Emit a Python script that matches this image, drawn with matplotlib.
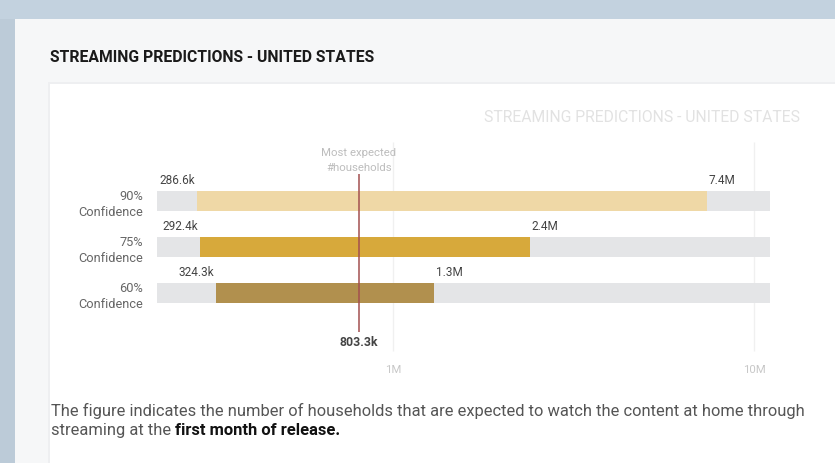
import matplotlib
matplotlib.use("Agg")
import matplotlib.pyplot as plt
from matplotlib.patches import Rectangle
from matplotlib.transforms import blended_transform_factory

# ── Data ──────────────────────────────────────────────────────────────────
levels = ["90%", "75%", "60%"]
lows = [286.6e3, 292.4e3, 324.3e3]
highs = [7.4e6, 2.4e6, 1.3e6]
low_labels = ["286.6k", "292.4k", "324.3k"]
high_labels = ["7.4M", "2.4M", "1.3M"]
most_expected = 803.3e3
most_expected_label = "803.3k"
tick_values = [1e6, 1e7]
tick_labels = ["1M", "10M"]
axis_range = [222e3, 11.07e6]

bar_colors = ["#efd8a6", "#d7a93b", "#b1904e"]
TRACK = "#e4e5e7"
W, H = 835, 464

plt.rcParams["font.family"] = ["Roboto", "DejaVu Sans"]

fig = plt.figure(figsize=(W / 100, H / 100), dpi=100)
fig.patch.set_facecolor("#bccbd8")


def px_rect(x0, y0, x1, y1, **kw):
    # rectangle given in pixel coords from the top-left corner
    fig.patches.append(Rectangle((x0 / W, 1 - y1 / H), (x1 - x0) / W, (y1 - y0) / H,
                                 transform=fig.transFigure, figure=fig, zorder=-5, **kw))


def px_text(x, y, s, **kw):
    return fig.text(x / W, 1 - y / H, s, **kw)


# backdrop, panel and card
px_rect(0, 0, W, 20, color="#c3d2df", lw=0)
px_rect(15, 20, W, H, color="#f6f7f8", lw=0)
px_rect(48, 83, W, H, color="#eeeff1", lw=0)
px_rect(50, 85, W, H, color="white", lw=0)

px_text(50, 57, "STREAMING PREDICTIONS - UNITED STATES", fontsize=11.3,
        fontweight="bold", color="#1a1a1a", va="center", ha="left")
px_text(800, 117, "STREAMING PREDICTIONS - UNITED STATES", fontsize=11.3,
        color="#e2e2e2", va="center", ha="right")

# ── Chart axes (log x, rows at 0,1,2) ─────────────────────────────────────
ax_x0, ax_x1 = 157, 770
ax_y0, ax_y1 = 140, 380
ax = fig.add_axes([ax_x0 / W, 1 - ax_y1 / H, (ax_x1 - ax_x0) / W, (ax_y1 - ax_y0) / H])
ax.set_xscale("log")
ax.set_xlim(axis_range)
row_px = 46
ax.set_ylim((ax_y1 - 202) / row_px, (ax_y0 - 202) / row_px)
ax.axis("off")
ax.patch.set_alpha(0)

for t in tick_values:
    ax.vlines(t, -1.28, 3.26, color="#f0f0f0", lw=1, zorder=0)
    ax.text(t, 3.65, tick_labels[tick_values.index(t)], ha="center", va="center",
            fontsize=8.2, color="#c8c8c8")

bh = 20 / row_px
for i, lvl in enumerate(levels):
    ax.barh(i, axis_range[1] - axis_range[0], left=axis_range[0], height=bh,
            color=TRACK, lw=0, zorder=1)
    ax.barh(i, highs[i] - lows[i], left=lows[i], height=bh,
            color=bar_colors[i], lw=0, zorder=2)
    ax.text(lows[i] * 0.985, i - 0.47, low_labels[i], ha="right", va="center",
            fontsize=8.5, color="#444444")
    ax.text(highs[i] * 1.01, i - 0.47, high_labels[i], ha="left", va="center",
            fontsize=8.5, color="#444444")

trans = blended_transform_factory(fig.transFigure, ax.transData)
for i, lvl in enumerate(levels):
    fig.text(143 / W, i - 0.12, lvl, transform=trans, ha="right", va="center",
             fontsize=9.2, color="#666666")
    fig.text(143 / W, i + 0.22, "Confidence", transform=trans, ha="right", va="center",
             fontsize=9.2, color="#666666")

ax.vlines(most_expected, -0.59, 2.85, color="#a3504f", lw=1.1, zorder=3)
ax.text(most_expected, -1.06, "Most expected", ha="center", va="center",
        fontsize=8.2, color="#bdbdbd")
ax.text(most_expected, -0.73, "#households", ha="center", va="center",
        fontsize=8.2, color="#bdbdbd")
ax.text(most_expected, 3.05, most_expected_label, ha="center", va="center",
        fontsize=8.8, fontweight="bold", color="#444444")

# ── Footer text ───────────────────────────────────────────────────────────
footer_kw = dict(fontsize=11.9, color="#555555", va="center", ha="left")
px_text(51, 411, "The figure indicates the number of households that are expected "
        "to watch the content at home through", **footer_kw)
t1 = px_text(51, 431, "streaming at the ", **footer_kw)
fig.canvas.draw()
bb = t1.get_window_extent()
fig.text(bb.x1 / W, 1 - 431 / H, "first month of release.", fontsize=11.9,
         color="#111111", fontweight="bold", va="center", ha="left")

fig.savefig("out.png", dpi=100)
